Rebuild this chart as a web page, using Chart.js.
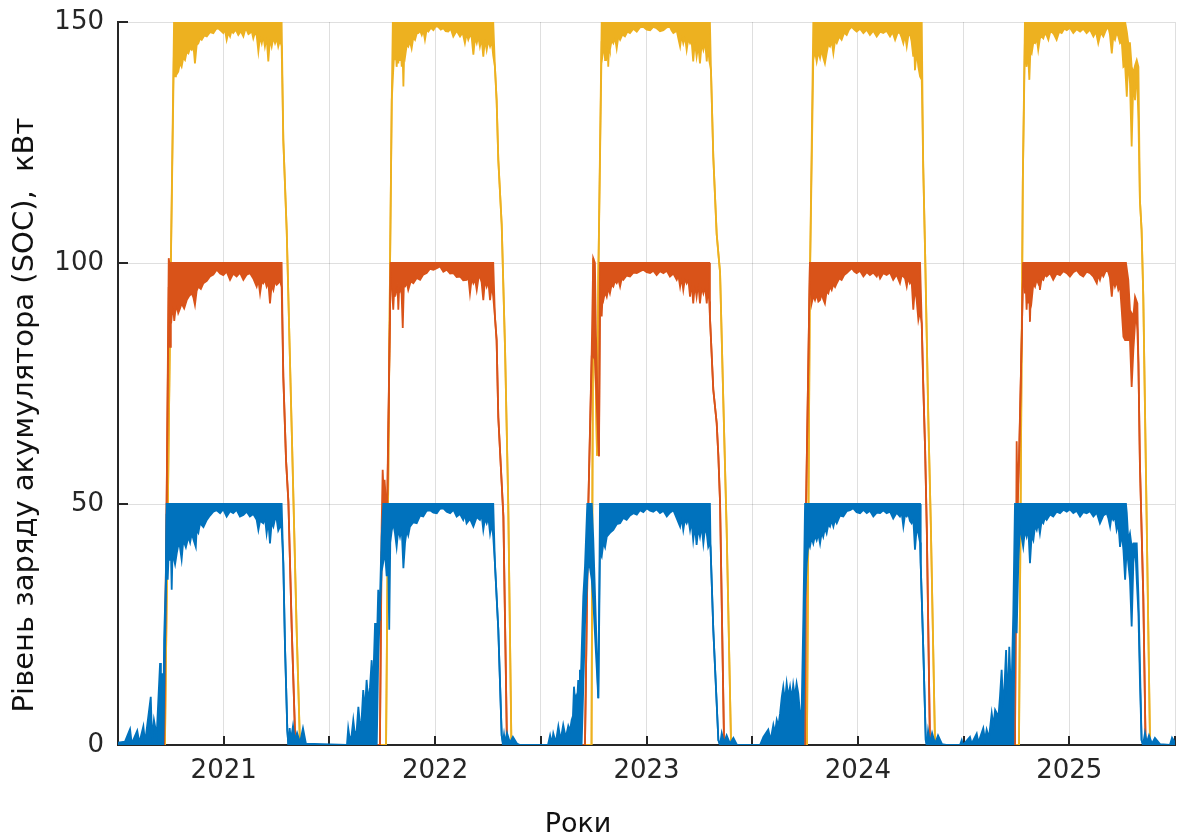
<!DOCTYPE html>
<html><head><meta charset="utf-8">
<script src="https://cdn.jsdelivr.net/npm/chart.js@4.4.1/dist/chart.umd.min.js"></script>
<style>html,body{margin:0;padding:0;background:#fff;}canvas{display:block;}</style>
</head><body>
<canvas id="c" width="1178" height="836"></canvas>
<script>
const xTitle = 'Роки';
const yTitle = 'Рівень заряду акумулятора (SOC),  кВт';
const yearLabels = [2021, 2022, 2023, 2024, 2025];
const yTickValues = [0, 50, 100, 150];

// SOC of the 50 kWh battery: upper and lower envelope of the hourly trace
const blueUpper = [
[2020.500,0.5],[2020.533,0.7],[2020.557,3.3],[2020.565,0.3],[2020.591,3.0],[2020.601,0.5],[2020.620,3.9],[2020.628,0.5],
[2020.655,10],[2020.661,1],[2020.670,5.2],[2020.683,2],[2020.699,17],[2020.703,3],[2020.708,14.9],[2020.714,2],
[2020.718,21.8],[2020.726,34],[2020.730,50],[2021.274,50],[2021.282,37.7],[2021.290,20.4],[2021.301,3],[2021.306,0],
[2021.312,3.5],[2021.318,1],[2021.328,4],[2021.337,1],[2021.347,2.5],[2021.361,0.5],[2021.375,3.5],[2021.389,0.3],[2021.583,0],
[2021.589,3.5],[2021.597,1],[2021.605,2],[2021.613,5.2],[2021.621,2],[2021.629,3],[2021.637,7.9],[2021.645,4],
[2021.652,5],[2021.660,11.4],[2021.668,7],[2021.676,13.5],[2021.684,9],[2021.692,12],[2021.700,17.6],[2021.704,12],
[2021.708,14],[2021.716,25.3],[2021.720,16],[2021.724,20],[2021.731,32.2],[2021.735,26],[2021.739,30],[2021.747,43.2],
[2021.755,50],[2022.275,50],[2022.283,37.7],[2022.299,23.9],
[2022.315,2],[2022.321,0.5],[2022.326,2.2],[2022.331,0.5],[2022.340,2.5],[2022.354,0.5],[2022.368,1.7],[2022.387,0.3],
[2022.402,0],[2022.534,0],[2022.544,2.0],[2022.552,0.3],[2022.559,2.4],[2022.571,0.5],[2022.583,3.9],[2022.594,1],
[2022.606,4.2],[2022.618,1.5],[2022.630,4],[2022.638,3],[2022.646,5.2],[2022.652,6],[2022.657,12.1],[2022.662,9],
[2022.667,10],[2022.672,9],[2022.677,13.5],[2022.681,11],[2022.685,15.6],[2022.689,13],[2022.693,19],[2022.701,30.8],
[2022.709,37],[2022.720,50],
[2022.741,50],[2022.748,43],[2022.761,25],[2022.772,9.7],[2022.780,50],[2023.300,50],[2023.303,41],[2023.316,23.9],
[2023.340,1],[2023.348,0],[2023.356,2.5],[2023.367,0.5],[2023.379,2],[2023.395,0.3],[2023.411,1.5],[2023.428,0],
[2023.537,0],[2023.553,1.7],[2023.576,3.2],[2023.587,1],[2023.600,4.2],[2023.608,2.5],[2023.616,5.2],[2023.624,4],
[2023.632,6.6],[2023.640,10.0],[2023.647,12.1],[2023.655,9],[2023.663,12.8],[2023.671,10],[2023.679,12.1],[2023.687,9.5],
[2023.694,12.5],[2023.702,10],[2023.710,12.8],[2023.718,10.7],[2023.726,6.6],[2023.734,7.3],[2023.742,26.6],[2023.750,50],
[2024.294,50],[2024.297,37.7],[2024.309,20.4],[2024.321,1],[2024.326,0],[2024.332,3],[2024.341,0.5],[2024.351,2.5],
[2024.365,0.3],[2024.379,2],[2024.398,0.2],[2024.417,0],[2024.483,0],[2024.491,1],[2024.497,0],[2024.530,1.7],
[2024.538,0.3],[2024.562,2.4],[2024.570,0.5],[2024.593,3.5],[2024.601,1],[2024.609,3.2],[2024.620,1.5],[2024.633,6.6],
[2024.641,4],[2024.649,7.3],[2024.657,6.6],[2024.665,6],[2024.672,10.0],[2024.680,15.6],[2024.686,9],[2024.691,10.0],
[2024.701,19.7],[2024.706,12],[2024.712,13.5],[2024.716,20.4],[2024.722,13],[2024.727,12.1],[2024.735,27.3],[2024.743,50],
[2025.268,50],[2025.272,48.1],[2025.279,42.5],[2025.287,43.9],[2025.295,41.1],[2025.303,41.8],[2025.311,41.8],[2025.319,41.8],
[2025.327,30.8],[2025.334,16.9],[2025.342,1.0],[2025.349,0],[2025.358,2.5],[2025.367,0.5],[2025.377,2],[2025.391,0.3],
[2025.405,1.5],[2025.429,0.2],[2025.476,0],[2025.486,1.5],[2025.500,0.5]
];
const blueLower = [
[2020.500,0],[2020.714,0],[2020.726,30],[2020.730,48],[2020.735,34.3],[2020.740,40],[2020.746,38.4],[2020.750,41],
[2020.754,32.2],[2020.758,40],[2020.762,39.1],[2020.770,37.5],[2020.778,39.8],[2020.785,41.5],[2020.793,41.1],[2020.801,38.5],
[2020.809,42.5],[2020.821,41],[2020.833,43.2],[2020.841,42],[2020.849,43.9],[2020.858,42.5],[2020.868,41.1],[2020.872,44.6],
[2020.880,44],[2020.888,46.0],[2020.904,45.2],[2020.920,46.7],[2020.935,47.6],[2020.951,48.4],[2020.967,48.7],[2020.983,48.1],
[2020.998,48.9],[2021.014,47.4],[2021.030,48.5],[2021.045,48.1],[2021.061,48.8],[2021.077,47.4],[2021.093,47.7],[2021.109,48.4],
[2021.124,47.4],[2021.140,47.9],[2021.156,46.7],[2021.164,44.6],[2021.172,46.5],[2021.187,46.0],[2021.195,47.2],[2021.203,43.9],
[2021.211,46.5],[2021.219,41.8],[2021.227,46.2],[2021.235,45.3],[2021.243,47],[2021.251,46.7],[2021.258,44.5],[2021.266,45.3],
[2021.274,45],[2021.282,37.7],[2021.290,20.4],[2021.301,3],[2021.306,0],
[2021.724,0],[2021.731,18],[2021.739,28],[2021.747,36],[2021.755,38],[2021.763,40],[2021.771,35],[2021.777,42],[2021.783,23.9],
[2021.788,42],[2021.795,44.5],[2021.802,46.0],[2021.810,44],[2021.818,41.1],[2021.826,44.8],[2021.834,43.2],[2021.842,45],
[2021.850,36.7],[2021.858,42],[2021.866,44.6],[2021.873,43.5],[2021.881,45.3],[2021.897,46.2],[2021.913,46.0],[2021.929,47.6],
[2021.944,47.4],[2021.960,48.6],[2021.976,48.7],[2021.992,48.2],[2022.008,48.1],[2022.023,49.0],[2022.039,49.1],[2022.055,48.4],
[2022.071,48.1],[2022.087,48.8],[2022.102,47.4],[2022.118,47.9],[2022.133,46.7],[2022.141,47.8],[2022.149,46.0],[2022.165,46.9],
[2022.181,45.3],[2022.197,47.3],[2022.212,46.7],[2022.220,47.8],[2022.228,44.6],[2022.236,47],[2022.244,46.0],[2022.252,47.2],
[2022.260,43.9],[2022.268,46],[2022.275,43.2],[2022.283,37.7],[2022.299,23.9],[2022.315,2],[2022.321,0],
[2022.693,0],[2022.701,12],[2022.709,25],[2022.720,35],[2022.725,37.7],[2022.733,36.7],[2022.741,34.3],[2022.748,30],
[2022.772,9.7],[2022.780,40],[2022.788,39.1],[2022.796,42],[2022.804,41],[2022.812,43.2],[2022.827,44],[2022.843,44.6],
[2022.859,45.8],[2022.875,46.0],[2022.890,47.1],[2022.906,46.7],[2022.922,47.6],[2022.938,48.1],[2022.954,47.8],[2022.969,48.7],
[2022.985,48.3],[2023.001,49.1],[2023.017,48.6],[2023.032,48.4],[2023.048,48.9],[2023.064,48.1],[2023.080,48.6],[2023.096,47.4],
[2023.111,48.2],[2023.127,48.7],[2023.143,47],[2023.159,45.3],[2023.166,47.2],[2023.174,44.6],[2023.182,46.8],[2023.190,46.0],
[2023.198,47],[2023.206,44.6],[2023.213,46.5],[2023.221,42.5],[2023.229,45.5],[2023.237,41.5],[2023.245,45],[2023.253,43.2],
[2023.261,45.5],[2023.269,41.8],[2023.277,45],[2023.285,43.9],[2023.292,41.1],[2023.300,42],[2023.303,41],[2023.316,23.9],
[2023.340,1],[2023.348,0],
[2023.742,0],[2023.750,30],[2023.758,37.7],[2023.766,42],[2023.773,41.1],[2023.781,43],[2023.789,41.8],[2023.797,43.5],
[2023.805,42.5],[2023.813,43.8],[2023.821,41.8],[2023.829,44.2],[2023.836,43.2],[2023.844,45],[2023.852,43.9],[2023.860,45.8],
[2023.868,45.3],[2023.876,46.6],[2023.884,45.3],[2023.892,46.8],[2023.900,46.0],[2023.915,47.6],[2023.931,47.4],[2023.947,48.5],
[2023.963,48.7],[2023.978,49.1],[2023.994,48.3],[2024.010,48.1],[2024.026,48.8],[2024.042,48.1],[2024.057,48.6],[2024.073,47.4],
[2024.089,48.2],[2024.105,48.1],[2024.120,48.7],[2024.136,48.1],[2024.152,48.4],[2024.167,47.0],[2024.183,48.2],[2024.199,47.4],
[2024.207,48.2],[2024.215,45.3],[2024.223,47.8],[2024.231,47.4],[2024.238,48],[2024.246,46.5],[2024.254,46.0],[2024.262,47],
[2024.270,40.5],[2024.278,45],[2024.286,43.9],[2024.294,42],[2024.297,37.7],[2024.309,20.4],[2024.321,1],[2024.326,0],
[2024.735,0],[2024.743,30],[2024.751,23.2],[2024.759,38],[2024.767,46.0],[2024.775,43],[2024.782,41.1],[2024.790,44.5],
[2024.798,43.2],[2024.806,45],[2024.814,37.7],[2024.822,43.5],[2024.830,42.5],[2024.838,45.5],[2024.846,44.6],[2024.853,46.2],
[2024.861,43.9],[2024.869,46.5],[2024.877,46.0],[2024.885,47.2],[2024.893,46.7],[2024.909,47.8],[2024.924,47.4],[2024.940,48.4],
[2024.956,48.1],[2024.972,48.8],[2024.988,48.4],[2025.003,48.9],[2025.019,48.1],[2025.035,48.6],[2025.051,47.4],[2025.066,48.3],
[2025.082,48.1],[2025.098,48.5],[2025.114,47.4],[2025.130,48.2],[2025.145,46.0],[2025.161,47.6],[2025.177,48.1],[2025.185,47],
[2025.193,45.3],[2025.200,47.5],[2025.208,46.7],[2025.216,47.3],[2025.224,44.6],[2025.232,46],[2025.240,41.1],[2025.248,44],
[2025.256,40.5],[2025.264,34.3],[2025.272,41.1],[2025.279,37.7],[2025.287,34.3],[2025.295,24.6],[2025.303,37.7],[2025.311,41.8],
[2025.319,34.3],[2025.327,27.3],[2025.334,13.5],[2025.342,1.0],[2025.349,0],[2025.500,0]
];

// SOC of the 100 kWh battery
const orangeUpper = [
[2020.500,0],[2020.718,0],[2020.730,50],[2020.740,101],[2020.743,100],[2021.274,100],[2021.282,76.4],[2021.295,59],
[2021.306,50.5],[2021.322,23.9],[2021.337,3],[2021.345,0],
[2021.739,0],[2021.747,45],[2021.752,57.1],[2021.757,52],[2021.761,55],[2021.768,50.2],[2021.774,52],[2021.790,100],
[2022.275,100],[2022.283,88.9],[2022.291,84],[2022.299,68],[2022.315,54.3],[2022.323,47.4],[2022.340,0],
[2022.709,0],[2022.725,50.2],[2022.741,82],[2022.748,101],[2022.756,100],[2022.761,85],[2022.775,59.9],[2022.780,100],
[2023.297,100],[2023.300,88.9],[2023.316,73.7],[2023.332,66.8],[2023.340,59.9],[2023.348,50.2],[2023.367,0],
[2023.750,0],[2023.755,50.2],[2023.773,100],[2024.294,100],[2024.302,87.5],[2024.309,75.0],[2024.318,61.2],[2024.326,44.6],
[2024.341,0],
[2024.743,0],[2024.751,63.0],[2024.755,50],[2024.763,61.2],[2024.775,84.7],[2024.782,100],[2025.268,100],[2025.279,96.5],
[2025.287,90.2],[2025.303,88.9],[2025.311,93.0],[2025.322,91.6],[2025.327,79.2],[2025.334,58.4],[2025.350,30.8],[2025.361,0],
[2025.500,0]
];
const orangeLower = [
[2020.500,0],[2020.718,0],[2020.730,50],[2020.740,95],[2020.746,82.6],[2020.750,90],[2020.754,88.9],[2020.758,91],
[2020.762,90.3],[2020.766,88],[2020.770,89.6],[2020.778,91.2],[2020.785,89.6],[2020.793,90.5],[2020.801,91.6],[2020.813,90.6],
[2020.825,92.3],[2020.837,93.2],[2020.849,93.7],[2020.857,92.8],[2020.864,91.3],[2020.872,94.2],[2020.880,95.1],[2020.892,94.6],
[2020.904,95.8],[2020.920,96.3],[2020.935,97.2],[2020.951,97.6],[2020.967,98.6],[2020.983,97.8],[2020.998,97.5],[2021.014,98.2],
[2021.030,96.5],[2021.045,97.8],[2021.061,97.2],[2021.077,98],[2021.093,96.5],[2021.109,97.6],[2021.124,97.9],[2021.140,96.8],
[2021.156,95.1],[2021.164,96.5],[2021.172,93.7],[2021.180,96.2],[2021.187,95.8],[2021.195,96.5],[2021.203,95.1],[2021.211,96],
[2021.219,91.6],[2021.227,95.5],[2021.235,94.4],[2021.243,96.2],[2021.251,95.5],[2021.258,95.8],[2021.266,96.4],[2021.274,95],
[2021.282,76.4],[2021.295,59],[2021.306,50.5],[2021.322,23.9],[2021.337,3],[2021.345,0],
[2021.739,0],[2021.747,40],[2021.768,45],[2021.774,50],[2021.790,100],[2021.795,95.8],[2021.802,90.3],[2021.806,94],
[2021.810,93.0],[2021.814,95.5],[2021.818,94.4],[2021.822,95.8],[2021.826,90.3],[2021.830,95],[2021.834,94.4],[2021.840,95.6],
[2021.847,86.5],[2021.852,95],[2021.858,95.1],[2021.866,96],[2021.873,94.4],[2021.885,96.2],[2021.897,95.8],[2021.913,96.9],
[2021.929,96.5],[2021.944,97.6],[2021.960,97.9],[2021.976,98.8],[2021.992,98.6],[2022.008,98.9],[2022.023,99.3],[2022.039,98.2],
[2022.055,98.6],[2022.071,97.8],[2022.087,97.9],[2022.102,97.1],[2022.118,97.2],[2022.133,96.4],[2022.149,96.5],[2022.157,97.2],
[2022.165,93.7],[2022.173,96.8],[2022.181,95.8],[2022.189,96.6],[2022.197,94.4],[2022.205,96.8],[2022.212,97.2],[2022.220,96],
[2022.228,92.3],[2022.236,96.5],[2022.244,95.1],[2022.252,96.2],[2022.260,92.3],[2022.268,95.5],[2022.275,93],[2022.283,88.9],
[2022.291,84],[2022.299,68],[2022.315,54.3],[2022.323,47.4],[2022.340,0],
[2022.709,0],[2022.725,50.2],[2022.741,80.6],[2022.748,80.6],[2022.756,80],[2022.775,59.9],[2022.780,88.9],[2022.784,92],
[2022.788,88.9],[2022.792,93],[2022.796,92.3],[2022.804,94],[2022.812,93.0],[2022.820,94.8],[2022.827,93.7],[2022.835,95.5],
[2022.843,95.1],[2022.851,96.3],[2022.859,95.8],[2022.867,96.6],[2022.875,95.1],[2022.883,96.8],[2022.890,96.5],[2022.906,97.4],
[2022.922,97.2],[2022.938,98],[2022.954,97.9],[2022.970,98.3],[2022.985,98.6],[2023.001,98.1],[2023.017,97.9],[2023.032,98.4],
[2023.048,97.5],[2023.064,98.3],[2023.080,97.9],[2023.096,98.4],[2023.111,97.2],[2023.127,97.8],[2023.143,96.5],[2023.151,97.4],
[2023.159,95.1],[2023.166,97],[2023.174,94.4],[2023.182,96.8],[2023.190,95.8],[2023.198,96.6],[2023.206,93.0],[2023.213,96.3],
[2023.221,91.6],[2023.229,95.6],[2023.237,93.0],[2023.245,95.8],[2023.253,91.6],[2023.261,95],[2023.269,93.7],[2023.277,95.2],
[2023.285,91.6],[2023.291,95],[2023.297,92],[2023.300,88.9],[2023.316,73.7],[2023.332,66.8],[2023.340,59.9],[2023.348,50.2],
[2023.367,0],
[2023.750,0],[2023.755,50.2],[2023.773,100],[2023.781,91.6],[2023.789,93.2],[2023.797,92.3],[2023.805,93.5],[2023.813,92],
[2023.821,92.3],[2023.829,93.6],[2023.836,92.5],[2023.844,91.6],[2023.852,94.1],[2023.860,93.7],[2023.868,95.1],[2023.876,94.4],
[2023.884,95.6],[2023.892,95],[2023.900,95.8],[2023.912,96.8],[2023.923,96.5],[2023.935,97.5],[2023.947,97.9],[2023.959,98.4],
[2023.971,98.9],[2023.983,98.2],[2023.994,97.9],[2024.010,98.4],[2024.026,97.2],[2024.042,98.1],[2024.057,97.5],[2024.073,98],
[2024.089,97.2],[2024.097,98],[2024.105,96.8],[2024.120,97.9],[2024.136,97.5],[2024.152,98],[2024.167,96.5],[2024.183,97.6],
[2024.199,95.8],[2024.207,97.4],[2024.215,97.2],[2024.223,96.8],[2024.231,95.1],[2024.238,97],[2024.246,95.8],[2024.254,96.4],
[2024.262,90.3],[2024.270,95],[2024.278,92.3],[2024.286,88.2],[2024.294,90],[2024.302,87.5],[2024.309,75.0],[2024.318,61.2],
[2024.326,44.6],[2024.341,0],
[2024.743,0],[2024.751,50],[2024.755,48],[2024.763,60],[2024.775,84.7],[2024.782,100],[2024.790,93.7],[2024.794,95.5],
[2024.798,90.3],[2024.802,94],[2024.806,91.6],[2024.810,94.5],[2024.814,87.8],[2024.818,94],[2024.822,92.3],[2024.830,95.8],
[2024.838,95.1],[2024.846,96.6],[2024.853,95.8],[2024.857,96.8],[2024.861,94.4],[2024.869,96.8],[2024.877,96.5],[2024.885,97.6],
[2024.893,97.2],[2024.909,97.9],[2024.924,96.5],[2024.940,97.8],[2024.956,97.5],[2024.972,98.3],[2024.988,97.9],[2025.003,97.2],
[2025.019,98.1],[2025.035,98.5],[2025.051,97.6],[2025.066,97.2],[2025.082,98.2],[2025.098,97.9],[2025.114,97.2],[2025.130,95.8],
[2025.137,97.5],[2025.145,96.5],[2025.153,97.8],[2025.161,97.2],[2025.173,98.4],[2025.184,98.2],[2025.192,97],[2025.201,93.0],
[2025.208,96.5],[2025.216,95.1],[2025.224,96.2],[2025.232,94.4],[2025.240,95.2],[2025.248,90.2],[2025.256,84.7],[2025.264,84.0],
[2025.272,84.0],[2025.287,84.0],[2025.295,74.3],[2025.303,81.9],[2025.315,90.2],[2025.322,86.1],[2025.327,79.2],[2025.334,58.4],
[2025.350,30.8],[2025.361,0],[2025.500,0]
];

// SOC of the 150 kWh battery
const yellowUpper = [
[2020.500,0],[2020.722,0],[2020.749,96.5],[2020.765,150],[2021.274,150],[2021.282,125.5],[2021.298,106.8],[2021.322,65],
[2021.345,24],[2021.361,0],
[2021.768,0],[2021.787,100],[2021.795,133.8],[2021.800,150],[2022.275,150],[2022.283,140.7],[2022.291,133.8],[2022.299,121.4],
[2022.315,108],[2022.331,82],[2022.346,50],[2022.361,0],
[2022.740,0],[2022.748,101],[2022.754,90],[2022.766,60],[2022.772,96.5],[2022.788,150],[2023.300,150],[2023.305,140],
[2023.316,122],[2023.332,106],[2023.348,98],[2023.363,72],[2023.379,45],[2023.400,0],
[2023.759,0],[2023.773,96.5],[2023.789,150],[2024.302,150],[2024.309,120],[2024.318,102],[2024.333,68],[2024.345,45.6],
[2024.365,0],
[2024.762,0],[2024.780,116.6],[2024.790,150],[2025.264,150],[2025.272,148],[2025.279,145.6],[2025.287,145.6],[2025.295,140.7],
[2025.303,139.4],[2025.311,141],[2025.319,142.1],[2025.327,140.7],[2025.334,113.1],[2025.342,106.8],[2025.350,93],[2025.382,0],
[2025.500,0]
];
const yellowLower = [
[2020.500,0],[2020.722,0],[2020.749,96.5],[2020.765,145],[2020.770,138.7],[2020.774,141],[2020.778,139.2],[2020.785,139.7],
[2020.793,141.5],[2020.801,140.7],[2020.809,142.6],[2020.817,142.1],[2020.825,143.8],[2020.833,143.5],[2020.841,144.6],[2020.849,144.2],
[2020.857,145],[2020.864,141.4],[2020.872,145.2],[2020.880,145.6],[2020.888,146.6],[2020.896,146.3],[2020.908,147.2],[2020.920,147.0],
[2020.935,147.9],[2020.951,147.7],[2020.963,148.5],[2020.974,148.7],[2020.986,148.2],[2020.998,147.7],[2021.006,148.4],[2021.014,146.3],
[2021.022,147.8],[2021.030,147.0],[2021.037,148.2],[2021.045,147.7],[2021.057,148.4],[2021.069,147.3],[2021.081,148.1],[2021.093,147.0],
[2021.101,148.3],[2021.109,148.3],[2021.117,147.5],[2021.124,147.7],[2021.132,148.2],[2021.140,146.6],[2021.148,147.8],[2021.156,147.2],
[2021.164,143.9],[2021.172,147],[2021.180,145.6],[2021.187,147.2],[2021.195,144.9],[2021.203,146.8],[2021.211,141.8],[2021.219,146.5],
[2021.227,144.9],[2021.235,146.8],[2021.243,145.6],[2021.251,146.6],[2021.258,144.9],[2021.266,146.2],[2021.274,145],[2021.282,125.5],
[2021.298,106.8],[2021.322,65],[2021.345,24],[2021.361,0],
[2021.768,0],[2021.787,100],[2021.795,133.8],[2021.802,140.0],[2021.806,143],[2021.810,142.1],[2021.814,144],[2021.818,140.7],
[2021.822,143.5],[2021.826,141.4],[2021.830,144],[2021.834,142.1],[2021.838,144.2],[2021.842,140.7],[2021.846,144],[2021.850,136.6],
[2021.854,143.8],[2021.858,142.8],[2021.866,145.3],[2021.873,144.9],[2021.881,146],[2021.889,144.5],[2021.897,146.8],[2021.905,146.3],
[2021.913,147.6],[2021.921,147.7],[2021.929,148.2],[2021.937,147.3],[2021.944,148.3],[2021.952,146.3],[2021.960,148.4],[2021.968,148.0],
[2021.980,148.8],[2021.992,148.3],[2022.003,149.1],[2022.015,149.0],[2022.027,148.4],[2022.039,148.7],[2022.050,148.1],[2022.062,148.0],
[2022.074,148.6],[2022.086,147.0],[2022.102,148.2],[2022.118,147.0],[2022.130,147.8],[2022.141,145.6],[2022.149,147.6],[2022.157,146.3],
[2022.165,147.3],[2022.173,146.8],[2022.181,143.2],[2022.189,146.8],[2022.197,145.6],[2022.204,147],[2022.212,144.9],[2022.220,146.6],
[2022.228,142.8],[2022.236,146.4],[2022.244,144.2],[2022.252,146.2],[2022.260,144.9],[2022.268,146],[2022.275,143],[2022.283,140.7],
[2022.291,133.8],[2022.299,121.4],[2022.315,108],[2022.331,82],[2022.346,50],[2022.361,0],
[2022.740,0],[2022.748,101],[2022.754,90],[2022.766,60],[2022.772,96.5],[2022.788,146],[2022.792,143],[2022.796,144.2],
[2022.800,145.6],[2022.804,142.1],[2022.808,145],[2022.812,143.5],[2022.816,145.3],[2022.819,140.7],[2022.823,145],[2022.827,144.2],
[2022.835,146.2],[2022.843,145.6],[2022.851,146.8],[2022.859,144.5],[2022.867,147],[2022.875,146.3],[2022.886,147.4],[2022.898,147.0],
[2022.910,148],[2022.922,147.7],[2022.938,148.6],[2022.954,148.0],[2022.970,148.9],[2022.985,149.0],[2023.001,148.4],[2023.017,148.3],
[2023.032,149],[2023.048,148.7],[2023.064,148.1],[2023.080,148.3],[2023.096,148.9],[2023.111,149.0],[2023.119,148.2],[2023.127,147.7],
[2023.143,148.2],[2023.151,146.5],[2023.159,144.9],[2023.166,147.2],[2023.174,145.6],[2023.182,147],[2023.190,144.2],[2023.198,146.5],
[2023.206,145.6],[2023.213,146.3],[2023.221,141.8],[2023.229,146],[2023.237,142.8],[2023.245,145.2],[2023.253,141.4],[2023.261,145.5],
[2023.269,144.2],[2023.277,146],[2023.285,141.8],[2023.291,145.2],[2023.297,142],[2023.305,140],[2023.316,122],[2023.332,106],
[2023.348,98],[2023.363,72],[2023.379,45],[2023.400,0],
[2023.759,0],[2023.773,96.5],[2023.789,142.1],[2023.797,144],[2023.805,141.8],[2023.813,143.8],[2023.821,142.5],[2023.829,144.3],
[2023.836,142.6],[2023.844,141.4],[2023.852,143.5],[2023.860,145.4],[2023.868,144.9],[2023.876,146],[2023.884,143.5],[2023.892,146.2],
[2023.900,145.6],[2023.912,147],[2023.923,146.3],[2023.935,147.8],[2023.947,147.3],[2023.959,148.5],[2023.971,149.0],[2023.983,148.4],
[2023.994,148.0],[2024.010,148.6],[2024.026,147.7],[2024.042,148.4],[2024.057,147.3],[2024.073,148.2],[2024.089,147.0],[2024.105,148],
[2024.120,147.7],[2024.136,148.2],[2024.152,147.0],[2024.164,147.9],[2024.176,146.3],[2024.188,147.8],[2024.199,147.7],[2024.207,146.8],
[2024.215,145.6],[2024.223,147.3],[2024.231,144.9],[2024.238,147],[2024.246,147.7],[2024.254,146],[2024.262,142.8],[2024.266,145.5],
[2024.270,140.0],[2024.278,144],[2024.286,140.7],[2024.294,138.7],[2024.302,138],[2024.309,120],[2024.318,102],[2024.333,68],
[2024.345,45.6],[2024.365,0],
[2024.762,0],[2024.780,116.6],[2024.790,146],[2024.794,143],[2024.798,140.7],[2024.802,144],[2024.806,142.5],[2024.811,138.0],
[2024.816,144],[2024.822,143.5],[2024.830,145.8],[2024.838,145.6],[2024.846,146.6],[2024.853,144.2],[2024.861,146.6],[2024.869,147.0],
[2024.877,146.6],[2024.885,147.7],[2024.893,147.2],[2024.901,146.3],[2024.909,147.8],[2024.917,148.0],[2024.928,147.4],[2024.940,146.3],
[2024.952,148],[2024.964,147.7],[2024.976,148.6],[2024.988,148.3],[2025.003,148.8],[2025.019,147.7],[2025.035,148.5],[2025.051,148.0],
[2025.066,148.6],[2025.082,147.7],[2025.098,148.4],[2025.114,147.0],[2025.126,148],[2025.137,145.6],[2025.149,147.8],[2025.161,147.0],
[2025.173,148.3],[2025.184,149.0],[2025.192,147.5],[2025.201,143.5],[2025.208,147],[2025.216,146.3],[2025.224,147.8],[2025.232,147.0],
[2025.240,145.6],[2025.248,146],[2025.256,140.7],[2025.264,141],[2025.272,134.5],[2025.279,142.5],[2025.287,137.3],[2025.295,124.2],
[2025.303,138.0],[2025.311,133.8],[2025.319,140.7],[2025.327,129.7],[2025.334,113.1],[2025.342,106.8],[2025.350,93],[2025.382,0],
[2025.500,0]
];

const BLUE = '#0072BD', ORANGE = '#D95319', YELLOW = '#EDB120';
const AXIS = '#262626', GRID = 'rgba(38,38,38,0.15)';
const FONT = 'DejaVu Sans';

function band(points, color, fillNext) {
  return {
    data: points.map(p => ({x: p[0], y: p[1]})),
    borderColor: color, backgroundColor: color, borderWidth: 1.8,
    pointRadius: 0, tension: 0, fill: fillNext ? '+1' : false
  };
}

const innerTicks = {
  id: 'innerTicks',
  beforeDatasetsDraw(chart) {
    const {ctx, chartArea: a, scales: {x, y}} = chart;
    ctx.save();
    ctx.strokeStyle = AXIS; ctx.lineWidth = 2;
    ctx.beginPath();
    x.ticks.forEach(t => { const px = Math.round(x.getPixelForValue(t.value)); ctx.moveTo(px, a.bottom); ctx.lineTo(px, a.bottom - 9); });
    y.ticks.forEach(t => { const py = Math.round(y.getPixelForValue(t.value)); ctx.moveTo(a.left, py); ctx.lineTo(a.left + 10, py); });
    ctx.stroke();
    ctx.restore();
  }
};

const axisTitles = {
  id: 'axisTitles',
  afterDraw(chart) {
    const {ctx} = chart;
    ctx.save();
    ctx.fillStyle = '#111';
    ctx.font = '27px "' + FONT + '"';
    ctx.textAlign = 'center'; ctx.textBaseline = 'alphabetic';
    ctx.fillText(xTitle, 578, 832);
    ctx.translate(33, 415); ctx.rotate(-Math.PI / 2);
    ctx.font = '29px "' + FONT + '"';
    ctx.fillText(yTitle, 0, 0);
    ctx.restore();
  }
};

new Chart(document.getElementById('c'), {
  type: 'line',
  data: {
    datasets: [
      band(blueUpper, BLUE, true), band(blueLower, BLUE, false),
      band(orangeUpper, ORANGE, true), band(orangeLower, ORANGE, false),
      band(yellowUpper, YELLOW, true), band(yellowLower, YELLOW, false)
    ]
  },
  options: {
    responsive: false, animation: false, devicePixelRatio: 1,
    layout: {padding: {top: 22, right: 3, left: 0, bottom: 0}},
    plugins: {legend: {display: false}, tooltip: {enabled: false}, filler: {propagate: false}},
    scales: {
      x: {
        type: 'linear', min: 2020.5, max: 2025.5,
        afterFit(s) { s.height = 91; },
        ticks: {stepSize: 0.5, autoSkip: false, maxRotation: 0, padding: 2, color: AXIS,
          font: {family: FONT, size: 26, lineHeight: 1.85},
          callback: v => yearLabels.includes(v) ? String(v) : ''},
        grid: {color: GRID, lineWidth: 1, drawTicks: false},
        border: {color: AXIS, width: 2}
      },
      y: {
        min: 0, max: 150,
        afterFit(s) { s.width = 118; },
        afterBuildTicks(s) { s.ticks = yTickValues.map(v => ({value: v})); },
        ticks: {padding: 14, color: AXIS, font: {family: FONT, size: 26, lineHeight: 0.55}, callback: v => String(v)},
        grid: {color: GRID, lineWidth: 1, drawTicks: false},
        border: {color: AXIS, width: 2}
      }
    }
  },
  plugins: [innerTicks, axisTitles]
});
</script>
</body></html>
